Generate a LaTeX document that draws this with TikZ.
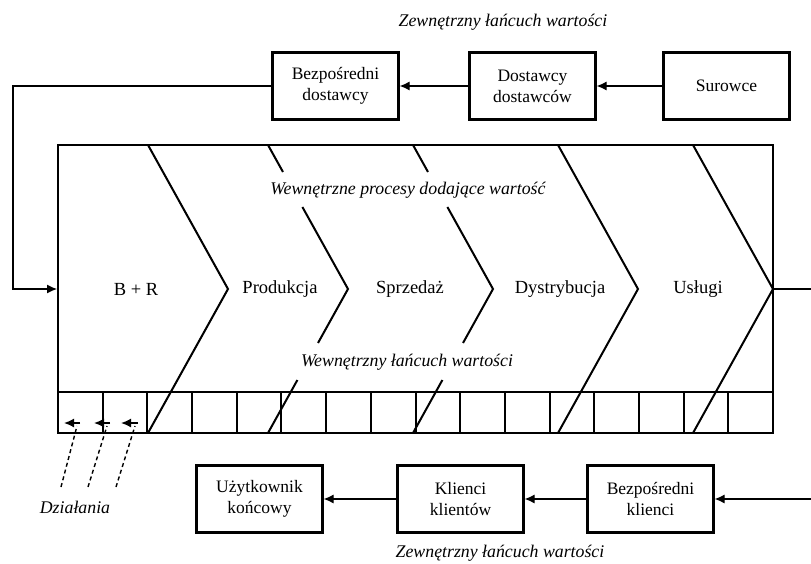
\documentclass[tikz,border=0pt]{standalone}
\usepackage{fontspec}
\setmainfont{Liberation Serif}
\usetikzlibrary{arrows.meta,calc}
\begin{document}
\begin{tikzpicture}[x=1pt,y=-1pt,
  box/.style={draw,line width=2.2pt,minimum width=126pt,minimum height=67pt,align=center,font=\fontsize{17.5}{21}\selectfont,inner sep=0pt},
  lbl/.style={font=\fontsize{18.5}{21}\selectfont,inner sep=0pt},
  itl/.style={font=\fontsize{17.8}{20}\selectfont\itshape,inner sep=0pt},
  conn/.style={line width=1.2pt},
  arr/.style={conn,-{Latex[length=10pt,width=9pt]}},
  chev/.style={line width=2pt},
  act/.style={line width=1.6pt,-{Latex[length=10pt,width=9pt]}},
  actline/.style={line width=1.4pt,dash pattern=on 4pt off 3pt},
]
\useasboundingbox (0,0) rectangle (811,564);

% titles
\node[itl] (ttop) at (503,22) {Zewnętrzny łańcuch wartości};
\node[itl] (tbot) at (500,553) {Zewnętrzny łańcuch wartości};

% top boxes
\node[box] (bd) at (335.5,86) {Bezpośredni\\dostawcy};
\node[box] (dd) at (532.5,86) {Dostawcy\\dostawców};
\node[box] (sur) at (726.5,86) {Surowce};

% bottom boxes
\node[box] (uk) at (259.5,499) {Użytkownik\\końcowy};
\node[box] (kk) at (460.5,499) {Klienci\\klientów};
\node[box] (bk) at (650.5,499) {Bezpośredni\\klienci};

% main frame
\node[draw,line width=2pt,minimum width=715pt,minimum height=288pt,inner sep=0pt] (main) at (415.5,289) {};

% strip
\draw[line width=2pt] (58,392) -- (773,392);
\foreach \k in {1,...,15}
  \draw[line width=2pt] ({58+\k*44.6875},392) -- ({58+\k*44.6875},433);

% chevrons
\foreach \t in {148,558,693}
  \draw[chev] (\t,145) -- (\t+80,289) -- (\t,433);
\foreach \t in {268,413}{
  \draw[chev] (\t,145) -- (\t+15,172);
  \draw[chev] (\t+34.4,207) -- (\t+80,289) -- (\t+50,343);
  \draw[chev] (\t+29.4,380) -- (\t,433);
}

% chevron labels
\node[lbl] (br) at (136,289) {B + R};
\node[lbl] (prod) at (280,289) {Produkcja};
\node[lbl] (sprz) at (410,289) {Sprzedaż};
\node[lbl] (dyst) at (560,289) {Dystrybucja};
\node[lbl] (usl) at (698,289) {Usługi};

\node[itl] (wproc) at (408,190) {Wewnętrzne procesy dodające wartość};
\node[itl] (wlan) at (407,362) {Wewnętrzny łańcuch wartości};

% top connectors
\draw[arr] (sur.west) -- (dd.east);
\draw[arr] (dd.west) -- (bd.east);
\coordinate (fb1) at (13,86);
\coordinate (fb2) at (13,289);
\draw[arr] (bd.west) -- (fb1) -- (fb2) -- (main.west);

% right out line
\coordinate (outR) at (811,289);
\draw[conn] (main.east) -- (outR);

% bottom connectors
\coordinate (inR) at (811,499);
\draw[arr] (inR) -- (bk.east);
\draw[arr] (bk.west) -- (kk.east);
\draw[arr] (kk.west) -- (uk.east);

% activities
\foreach \i/\xa/\xb/\xd in {1/80/64/61, 2/110/94/88, 3/138/121/116}{
  \coordinate (at\i) at (\xa,423);
  \coordinate (ah\i) at (\xb,423);
  \coordinate (ad\i) at (\xd,487);
  \coordinate (au\i) at (\xa-3,426);
  \draw[act] (at\i) -- (ah\i);
  \draw[actline] (ad\i) -- (au\i);
}
\node[itl] (dzial) at (75,507) {Działania};

\end{tikzpicture}
\end{document}
